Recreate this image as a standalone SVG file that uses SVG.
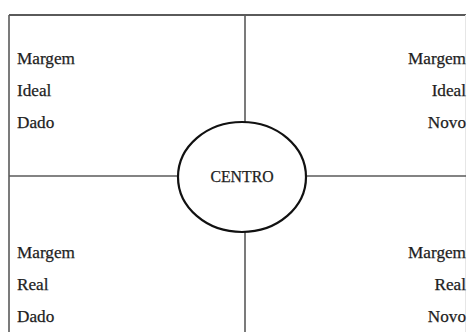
<svg xmlns="http://www.w3.org/2000/svg" width="467" height="332" viewBox="0 0 467 332">
<style>
.ln{stroke:#5a5a5a;stroke-width:1.6;fill:none}
.t{font-family:"Liberation Serif","Times New Roman",serif;font-size:17.2px;fill:#1e1e1e;stroke:#1e1e1e;stroke-width:0.25}
.r{text-anchor:end}
</style>
<rect width="467" height="332" fill="#fff"/>
<g id="connectors">
<line class="ln" x1="9" y1="15" x2="466" y2="15" style="stroke-width:2.2"/>
<line class="ln" x1="9" y1="15" x2="9" y2="332"/>
<line class="ln" x1="465.5" y1="15" x2="465.5" y2="332" style="stroke:#e6e6e6;stroke-width:1"/>
<line class="ln" x1="245" y1="15" x2="245" y2="123"/>
<line class="ln" x1="245" y1="231" x2="245" y2="332"/>
<line class="ln" x1="9" y1="176" x2="178" y2="176"/>
<line class="ln" x1="306" y1="176" x2="466" y2="176"/>
</g>
<g id="q1"><text class="t" x="17" y="64">Margem</text><text class="t" x="17" y="96">Ideal</text><text class="t" x="17" y="128">Dado</text></g>
<g id="q2"><text class="t r" x="466" y="64">Margem</text><text class="t r" x="466" y="96">Ideal</text><text class="t r" x="466" y="128">Novo</text></g>
<g id="q3"><text class="t" x="17" y="258">Margem</text><text class="t" x="17" y="290">Real</text><text class="t" x="17" y="322">Dado</text></g>
<g id="q4"><text class="t r" x="466" y="258">Margem</text><text class="t r" x="466" y="290">Real</text><text class="t r" x="466" y="322">Novo</text></g>
<g id="centro">
<ellipse cx="242" cy="177" rx="64" ry="55" fill="#fff" stroke="#111" stroke-width="2.2"/>
<text class="t" x="242" y="182" text-anchor="middle" style="font-size:15.8px">CENTRO</text>
</g>
</svg>
